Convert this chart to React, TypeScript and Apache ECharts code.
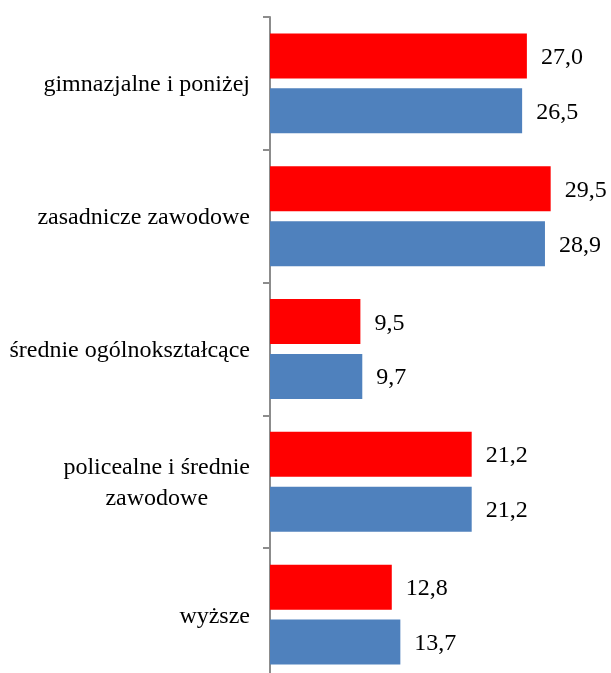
import React, { useEffect, useRef } from "react";
import * as echarts from "echarts";

const categories = [
  "gimnazjalne i poniżej",
  "zasadnicze zawodowe",
  "średnie ogólnokształcące",
  "policealne i średnie\nzawodowe",
  "wyższe",
];
const redValues = [27.0, 29.5, 9.5, 21.2, 12.8];
const blueValues = [26.5, 28.9, 9.7, 21.2, 13.7];

const FONT = "'Liberation Serif', 'Times New Roman', serif";

export default function App() {
  const ref = useRef<HTMLDivElement>(null);
  useEffect(() => {
    if (!ref.current) return;
    const chart = echarts.init(ref.current, null, { renderer: "svg" });
    const label = {
      show: true,
      position: "right",
      distance: 14,
      color: "#000",
      fontFamily: FONT,
      fontSize: 24,
      formatter: (p: any) => Number(p.value).toFixed(1).replace(".", ","),
    };
    chart.setOption({
      animation: false,
      grid: { left: 270, right: 8, top: 17, bottom: 9, containLabel: false },
      xAxis: {
        type: "value",
        min: 0,
        max: 35,
        show: false,
      },
      yAxis: {
        type: "category",
        inverse: true,
        data: categories,
        axisLine: { show: true, lineStyle: { color: "#8c8c8c", width: 2 } },
        axisTick: { show: true, length: 7, lineStyle: { color: "#8c8c8c", width: 2 } },
        splitLine: { show: false },
        axisLabel: {
          margin: 20,
          color: "#000",
          fontFamily: FONT,
          fontSize: 24,
          lineHeight: 31,
          formatter: (v: string) =>
            v
              .split("\n")
              .map((s) => "{c|" + s + "}")
              .join("\n"),
          rich: {
            c: {
              align: "center",
              color: "#000",
              fontFamily: FONT,
              fontSize: 24,
              lineHeight: 31,
            },
          },
        },
      },
      series: [
        {
          type: "bar",
          data: redValues,
          barWidth: 45,
          barGap: "22%",
          itemStyle: { color: "#FF0000" },
          label,
        },
        {
          type: "bar",
          data: blueValues,
          barWidth: 45,
          barGap: "22%",
          itemStyle: { color: "#4F81BD" },
          label,
        },
      ],
    });
    return () => chart.dispose();
  }, []);
  return (
    <div
      style={{
        position: "fixed",
        left: 0,
        top: 0,
        width: 611,
        height: 673,
        overflow: "hidden",
      }}
    >
      <div ref={ref} style={{ width: 611, height: 690 }} />
    </div>
  );
}
